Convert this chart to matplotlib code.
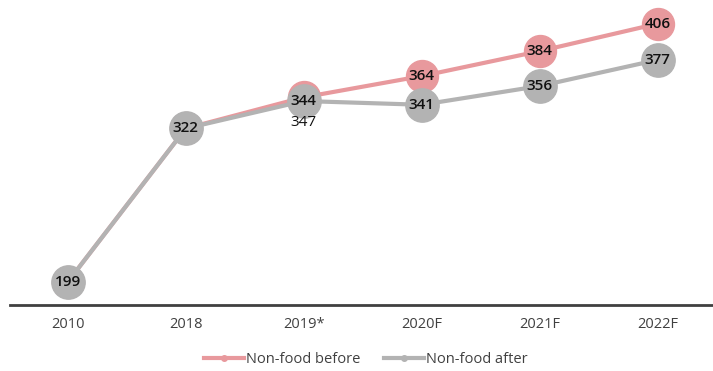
import matplotlib
matplotlib.use("Agg")
import matplotlib.pyplot as plt

categories = ["2010", "2018", "2019*", "2020F", "2021F", "2022F"]
before = [199, 322, 347, 364, 384, 406]
after = [199, 322, 344, 341, 356, 377]

pink = "#E8999D"
gray = "#B3B3B3"

plt.rcParams['font.family'] = ['Open Sans', 'DejaVu Sans']

fig = plt.figure(figsize=(7.13, 3.71), dpi=100)
ax = fig.add_axes([0.014, 0.178, 0.986, 0.822])

x = list(range(len(categories)))
ax.plot(x, before, color=pink, lw=3, marker="o", ms=23, zorder=2, label="Non-food before")
ax.plot(x, after, color=gray, lw=3, marker="o", ms=24, zorder=3, label="Non-food after")

fs = 11
for i, v in enumerate(before):
    if after[i] == v:
        continue
    if i == 2:
        ax.annotate(str(v), (i, v), xytext=(0, -18), textcoords="offset points",
                    ha="center", va="center", fontsize=fs, color="#111111", zorder=5)
    else:
        ax.annotate(str(v), (i, v), ha="center", va="center", fontsize=fs,
                    color="#111111", zorder=5, fontweight="semibold")
for i, v in enumerate(after):
    ax.annotate(str(v), (i, v), ha="center", va="center", fontsize=fs,
                color="#111111", zorder=5, fontweight="semibold")

ax.set_xlim(-0.49, 5.47)
ax.set_ylim(180.5, 425)
ax.set_xticks(x)
ax.set_xticklabels(categories, fontsize=10.5, color="#404040")
ax.tick_params(axis="x", length=0, pad=9)
ax.set_yticks([])
for s in ["top", "right", "left"]:
    ax.spines[s].set_visible(False)
ax.spines["bottom"].set_color("#404040")
ax.spines["bottom"].set_linewidth(2)

h1 = plt.Line2D([], [], color=pink, lw=3, marker="o", ms=4)
h2 = plt.Line2D([], [], color=gray, lw=3, marker="o", ms=4)
fig.legend([h1, h2], ["Non-food before", "Non-food after"], loc="center",
           bbox_to_anchor=(0.513, 0.03), ncol=2, frameon=False, fontsize=10.5,
           handlelength=2.75, handletextpad=0.15, columnspacing=1.6, labelcolor="#404040")

fig.savefig("out.png", dpi=100)
